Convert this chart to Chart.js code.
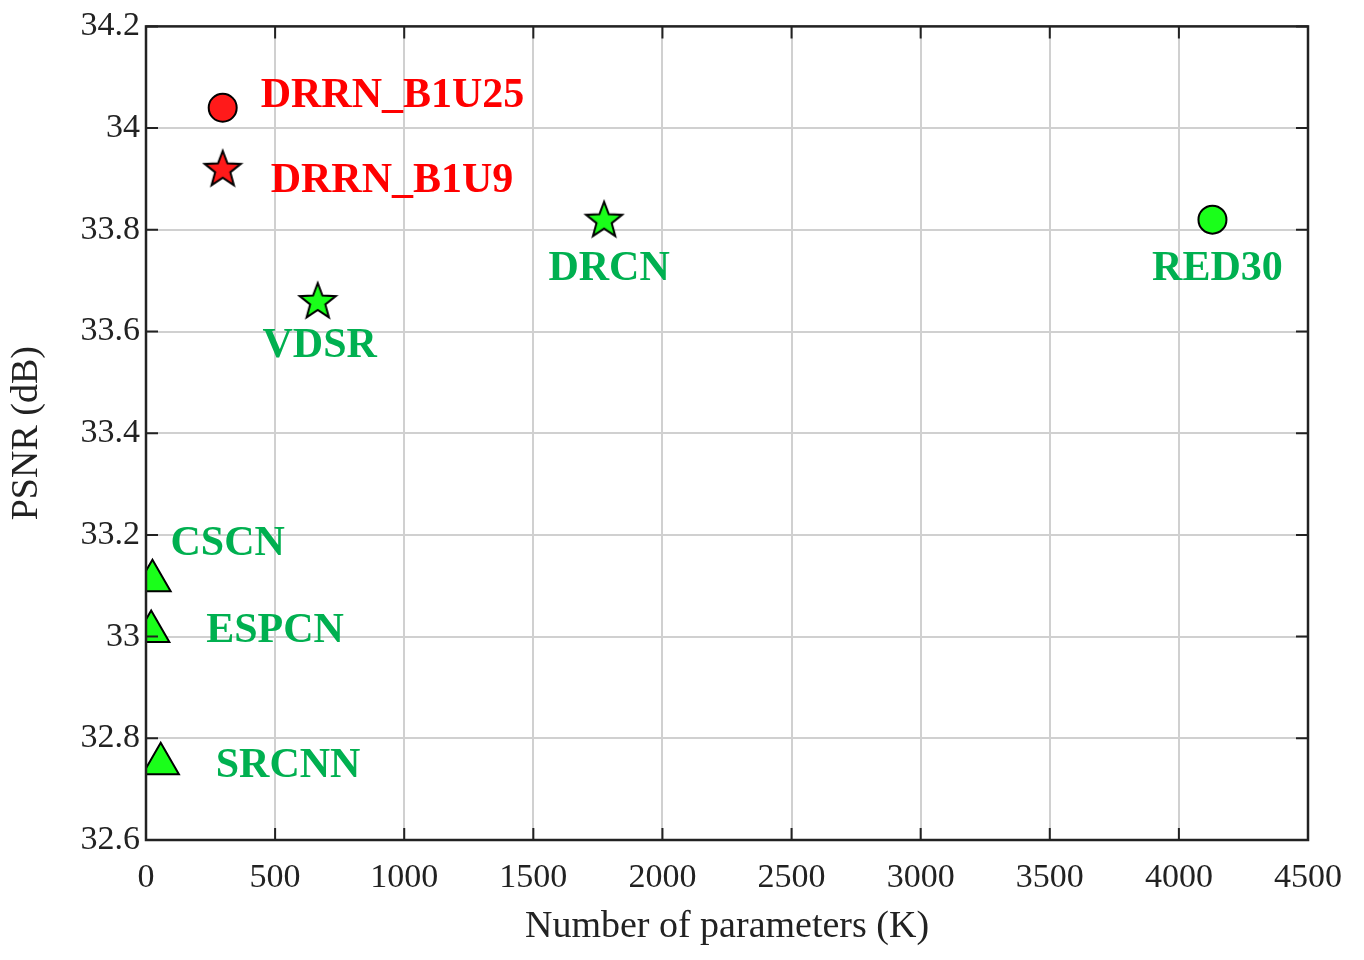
<!DOCTYPE html>
<html><head><meta charset="utf-8">
<script src="https://cdn.jsdelivr.net/npm/chart.js@4"></script>
<style>html,body{margin:0;padding:0;background:#fff}#w{width:1364px;height:960px}</style>
</head><body><div id="w"><canvas id="c"></canvas></div>
<script>
const names=["DRRN_B1U25","DRRN_B1U9","DRCN","RED30","VDSR","CSCN","ESPCN","SRCNN"];
const paramsK=[297,297,1774,4130,665,25,20,57];
const psnr=[34.04,33.92,33.82,33.82,33.66,33.11,33.01,32.75];
const markers=["circle","star","star","circle","star","triangle","triangle","triangle"];
const groupColor=["red","red","green","green","green","green","green","green"];
const xTicks=[0,500,1000,1500,2000,2500,3000,3500,4000,4500];
const yTicks=[32.6,32.8,33,33.2,33.4,33.6,33.8,34,34.2];
const labelOffsets=[[38,-12],[48,12],[5,50],[5,50],[2,45],[18,-37],[55,0],[55,2]];

const fill={red:"#ff1a1a",green:"#1aff1a"};
const txt={red:"#ff0000",green:"#00b050"};
function starImg(col){const c=document.createElement('canvas');c.width=c.height=42;const g=c.getContext('2d');
g.beginPath();for(let i=0;i<10;i++){const r=i%2?8:19;const a=-Math.PI/2+i*Math.PI/5;g.lineTo(21+r*Math.cos(a),22+r*Math.sin(a));}
g.closePath();g.fillStyle=col;g.fill();g.lineWidth=2;g.strokeStyle="#000";g.stroke();return c;}
const styles=markers.map((m,i)=>m==="star"?starImg(fill[groupColor[i]]):m);
const ds=names.map((n,i)=>({label:n,data:[{x:paramsK[i],y:psnr[i]}],pointStyle:styles[i],
 pointRadius:markers[i]==="triangle"?21:14,backgroundColor:fill[groupColor[i]],borderColor:"#000",borderWidth:2}));

const deco={id:'deco',afterDatasetsDraw(ch){const g=ch.ctx,a=ch.chartArea,xs=ch.scales.x,ys=ch.scales.y;
 g.save();g.strokeStyle="#222";g.lineWidth=2.5;g.strokeRect(a.left,a.top,a.right-a.left,a.bottom-a.top);
 g.lineWidth=2;g.beginPath();
 xTicks.forEach(v=>{const p=xs.getPixelForValue(v);g.moveTo(p,a.bottom);g.lineTo(p,a.bottom-12);g.moveTo(p,a.top);g.lineTo(p,a.top+12);});
 yTicks.forEach(v=>{const p=ys.getPixelForValue(v);g.moveTo(a.left,p);g.lineTo(a.left+12,p);g.moveTo(a.right,p);g.lineTo(a.right-12,p);});
 g.stroke();
 g.font="bold 42px 'Liberation Serif'";g.textBaseline="middle";
 names.forEach((n,i)=>{const px=xs.getPixelForValue(paramsK[i]),py=ys.getPixelForValue(psnr[i]);const o=labelOffsets[i];
  g.fillStyle=txt[groupColor[i]];
  g.textAlign=o[1]>=40?"center":"left";
  g.fillText(n,px+o[0],py+o[1]);});
 g.restore();}};

new Chart(document.getElementById('c'),{type:'scatter',data:{datasets:ds},plugins:[deco],
options:{responsive:true,maintainAspectRatio:false,animation:false,
 layout:{padding:{top:8,right:56,left:4,bottom:0}},
 plugins:{legend:{display:false},tooltip:{enabled:false}},
 scales:{
  x:{type:'linear',min:0,max:4500,afterBuildTicks:s=>{s.ticks=xTicks.map(v=>({value:v}))},
   afterFit:s=>{s.height=120},
   grid:{color:"#d0d0d0",lineWidth:2,drawTicks:false},border:{display:false},
   ticks:{color:"#222",font:{family:"'Liberation Serif'",size:34},padding:18,maxRotation:0,callback:v=>String(v)},
   title:{display:true,text:"Number of parameters (K)",color:"#222",font:{family:"'Liberation Serif'",size:38},padding:{top:0,bottom:10}}},
  y:{type:'linear',min:32.6,max:34.2,afterBuildTicks:s=>{s.ticks=yTicks.map(v=>({value:v}))},
   afterFit:s=>{s.width=142},
   grid:{color:"#d0d0d0",lineWidth:2,drawTicks:false},border:{display:false},
   ticks:{color:"#222",font:{family:"'Liberation Serif'",size:34},padding:6,callback:v=>String(Math.round(v*10)/10)},
   title:{display:true,text:"PSNR (dB)",color:"#222",font:{family:"'Liberation Serif'",size:38},padding:{top:0,bottom:4}}}
 }}});
</script></body></html>
